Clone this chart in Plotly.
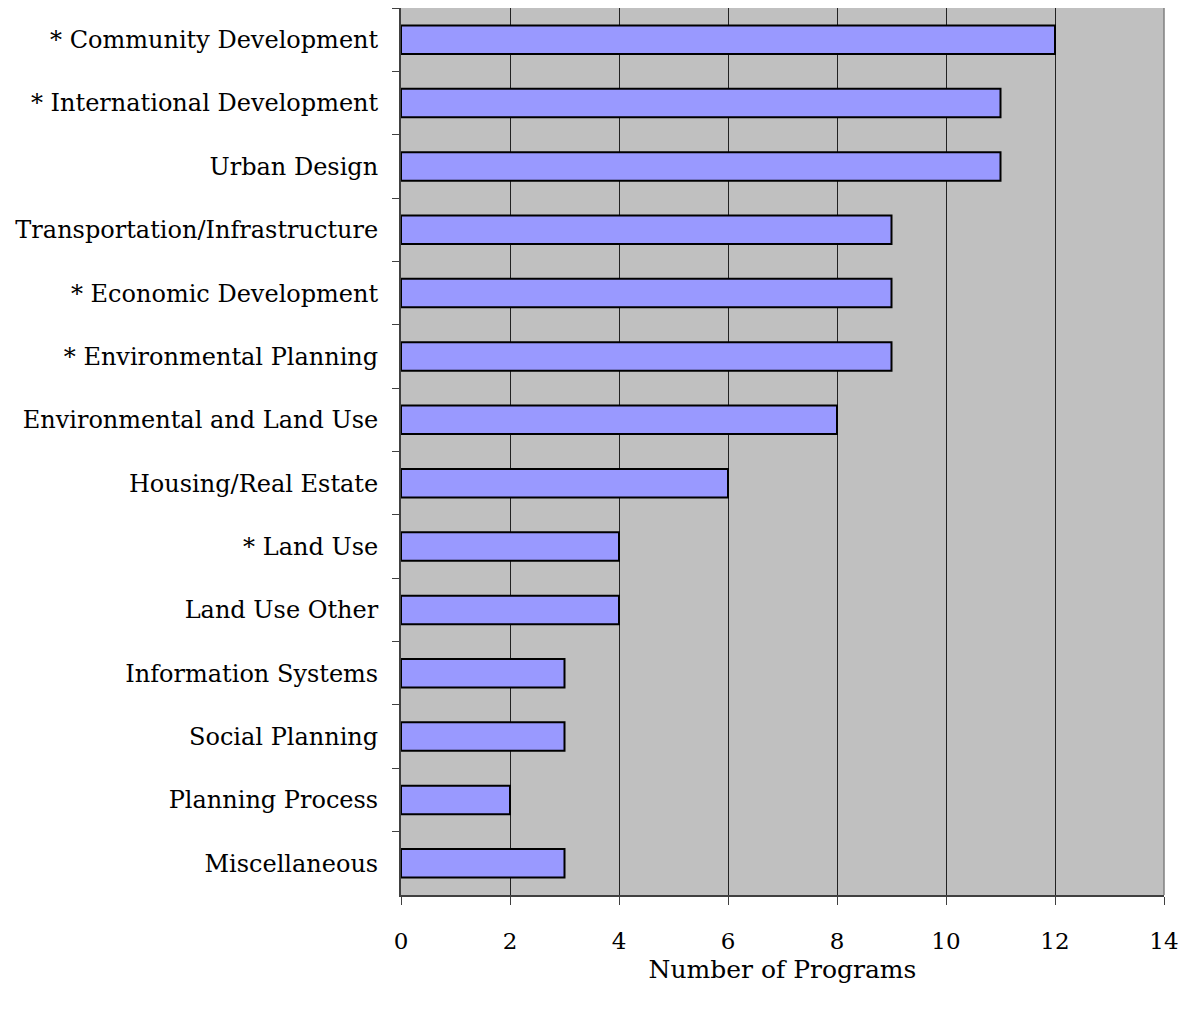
import plotly.graph_objects as go

categories = [
    "* Community Development",
    "* International Development",
    "Urban Design",
    "Transportation/Infrastructure",
    "* Economic Development",
    "* Environmental Planning",
    "Environmental and Land Use",
    "Housing/Real Estate",
    "* Land Use",
    "Land Use Other",
    "Information Systems",
    "Social Planning",
    "Planning Process",
    "Miscellaneous",
]
values = [12, 11, 11, 9, 9, 9, 8, 6, 4, 4, 3, 3, 2, 3]
x_ticks = [0, 2, 4, 6, 8, 10, 12, 14]

FONT = "Palatino Linotype, Book Antiqua, Palatino, DejaVu Serif, serif"

fig = go.Figure(
    go.Bar(
        x=values,
        y=categories,
        orientation="h",
        width=0.45,
        marker=dict(color="#9999FF", line=dict(color="black", width=2)),
    )
)

fig.update_layout(
    width=1187,
    height=1017,
    margin=dict(l=401, r=15, t=8, b=122),
    paper_bgcolor="white",
    plot_bgcolor="#C0C0C0",
    font=dict(family=FONT, size=24, color="black"),
    showlegend=False,
)

fig.update_xaxes(
    range=[0, 14],
    tickvals=x_ticks,
    ticktext=[str(v) for v in x_ticks],
    showgrid=True,
    gridcolor="#222222",
    gridwidth=1,
    zeroline=False,
    showline=True,
    linecolor="#404040",
    linewidth=2,
    ticks="outside",
    ticklen=8,
    tickcolor="#404040",
    ticklabelstandoff=16,
    tickfont=dict(family=FONT, size=23),
    title=dict(text="Number of Programs", font=dict(family=FONT, size=25), standoff=8),
)

fig.update_yaxes(
    autorange="reversed",
    categoryorder="array",
    categoryarray=categories,
    showgrid=False,
    showline=True,
    linecolor="#404040",
    linewidth=2,
    ticks="outside",
    tickson="boundaries",
    ticklen=7,
    tickcolor="#404040",
    ticklabelstandoff=16,
    tickfont=dict(family=FONT, size=24),
)

# right border of plot area
fig.add_shape(type="line", xref="paper", yref="paper", x0=1, x1=1, y0=0, y1=1,
              line=dict(color="#808080", width=1.5))

fig.write_html("out.html")
